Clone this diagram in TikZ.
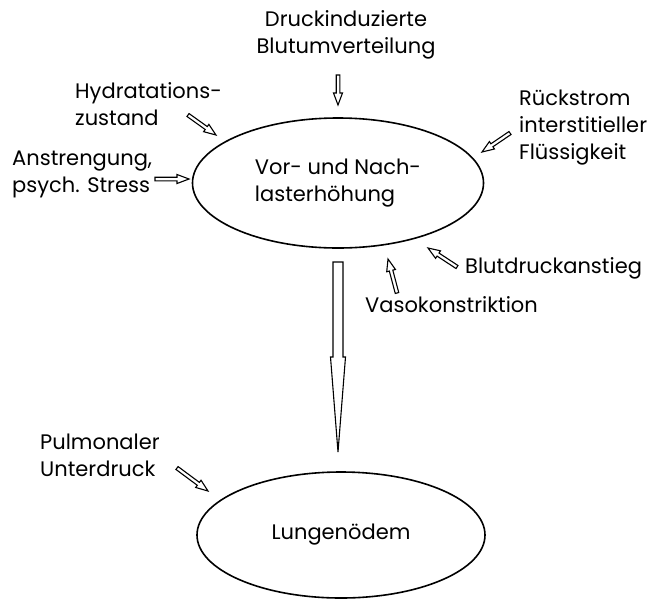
\documentclass[tikz,border=0pt]{standalone}
\usepackage{fontspec}
\setmainfont{Poppins}
\usetikzlibrary{shapes.geometric, calc}

\begin{document}
\begin{tikzpicture}[x=1pt,y=-1pt,
  lbl/.style={inner sep=0pt,align=left,font=\fontsize{21}{27}\selectfont},
  oval/.style={ellipse,draw,line width=1.6pt,inner sep=0pt,align=left,font=\fontsize{21}{27}\selectfont},
  hollow/.style n args={3}{draw,line width=1.1pt,fill=white,to path={
    ($(\tikztostart)!#1!90:(\tikztotarget)$)
    -- ($($(\tikztotarget)!#3!(\tikztostart)$)!#1!90:(\tikztotarget)$)
    -- ($($(\tikztotarget)!#3!(\tikztostart)$)!#2!90:(\tikztotarget)$)
    -- (\tikztotarget)
    -- ($($(\tikztotarget)!#3!(\tikztostart)$)!#2!-90:(\tikztotarget)$)
    -- ($($(\tikztotarget)!#3!(\tikztostart)$)!#1!-90:(\tikztotarget)$)
    -- ($(\tikztostart)!#1!-90:(\tikztotarget)$) -- cycle}},
  small/.style={hollow={1.8pt}{4.5pt}{12pt}},
  big/.style={hollow={5pt}{7.5pt}{95pt}}
]
  \useasboundingbox (0,0) rectangle (664,598);
  \node[oval,minimum width=291pt,minimum height=130pt](vor) at (338,183){Vor- und Nach-\\lasterhöhung};
  \node[oval,minimum width=288pt,minimum height=126pt](lunge) at (341,535){Lungenödem};
  \node[lbl,align=center](druck) at (346,35){Druckinduzierte\\Blutumverteilung};
  \node[lbl,anchor=west](hydr) at (75,104){Hydratations-\\zustand};
  \node[lbl,anchor=west](anstr) at (12,174){Anstrengung,\\psych. Stress};
  \node[lbl,anchor=west](rueck) at (519,128){Rückstrom\\interstitieller\\Flüssigkeit};
  \node[lbl,anchor=west](blut) at (465,268){Blutdruckanstieg};
  \node[lbl,anchor=west](vaso) at (365,305){Vasokonstriktion};
  \node[lbl,anchor=west](pulm) at (40,455){Pulmonaler\\Unterdruck};

  \coordinate (d1) at (338,75);  \coordinate (d2) at (338,105);
  \coordinate (h1) at (188,115); \coordinate (h2) at (216,135);
  \coordinate (a1) at (155,179); \coordinate (a2) at (189,179);
  \coordinate (r1) at (510,133); \coordinate (r2) at (482,152);
  \coordinate (b1) at (457,267); \coordinate (b2) at (428,248);
  \coordinate (v1) at (397,293); \coordinate (v2) at (388,259);
  \coordinate (p1) at (177,468); \coordinate (p2) at (208,491);
  \coordinate (g1) at (338,262); \coordinate (g2) at (338,452);

  \draw[small] (d1) to (d2);
  \draw[small] (h1) to (h2);
  \draw[small] (a1) to (a2);
  \draw[small] (r1) to (r2);
  \draw[small] (b1) to (b2);
  \draw[small] (v1) to (v2);
  \draw[small] (p1) to (p2);
  \draw[big] (g1) to (g2);
\end{tikzpicture}
\end{document}
